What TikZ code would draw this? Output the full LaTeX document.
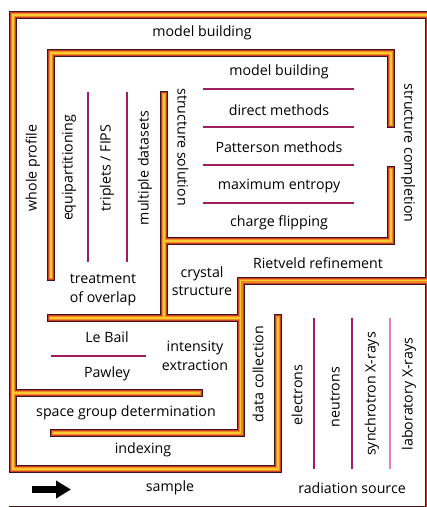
\documentclass[tikz,border=0pt]{standalone}
\usepackage{fontspec}
\setmainfont{Open Sans}
\usepackage{xcolor}
\usepackage{tikz}
\usetikzlibrary{arrows.meta}

\definecolor{wallDark}{RGB}{66,18,30}
\definecolor{wallRed}{RGB}{200,62,40}
\definecolor{wallOrange}{RGB}{240,138,30}
\definecolor{wallYellow}{RGB}{250,200,48}
\definecolor{sepPurple}{RGB}{160,30,95}
\definecolor{sepPink}{RGB}{226,130,180}

\begin{document}
\begin{tikzpicture}[x=1pt, y=-1pt,
  txt/.style={font=\fontsize{14.2}{18.5}\selectfont, inner sep=0pt, align=center},
  vup/.style={txt, rotate=90},
  vdown/.style={txt, rotate=-90},
  sep/.style={line width=2pt, sepPurple},
  seplight/.style={line width=2pt, sepPink},
]
  \useasboundingbox (0,0) rectangle (427,507);
  \clip (0,0) rectangle (427,507);

  % Walls: one layer at a time, so the stripes merge at the joints
  \foreach \w/\c in {8/wallDark, 6/wallRed, 4/wallOrange, 1.6/wallYellow} {
    \begin{scope}[line width=\w pt, color=\c, line cap=rect]
      \draw (278,318) -- (278,469) -- (12.7,469) -- (12.7,15) -- (428.5,15)
            -- (428.5,509.5) -- (13,509.5);
      \draw (51,277) -- (51,53) -- (391,53) -- (391,124);
      \draw (391,170) -- (391,241) -- (164,241);
      \draw (164,95) -- (164,318);
      \draw (50.7,318) -- (240.5,318);
      \draw (428.5,280.5) -- (240.5,280.5) -- (240.5,433) -- (54,433);
      \draw (12.7,393) -- (199,393);
    \end{scope}
  }

  % Separators
  \draw[sep] (203,89) -- (354,89);
  \draw[sep] (203,127) -- (354,127);
  \draw[sep] (203,165) -- (354,165);
  \draw[sep] (203,203) -- (354,203);
  \draw[sep] (88,92) -- (88,262);
  \draw[sep] (127,92) -- (127,262);
  \draw[sep] (51,356) -- (146,356);
  \draw[sep] (314,318) -- (314,469);
  \draw[sep] (352,318) -- (352,469);
  \draw[seplight] (390,318) -- (390,469);

  % Outer ring
  \node[txt] (mbOuter) at (202,33) {model building};
  \node[vup] (wholeProf) at (33,168) {whole profile};
  \node[vdown] (structCompl) at (408,153) {structure completion};
  \node[txt] (rietveld) at (318,263) {Rietveld refinement};

  % Structure solution
  \node[vdown] (structSol) at (183,147) {structure solution};
  \node[txt] (mbInner) at (279,72) {model building};
  \node[txt] (directM) at (279,110) {direct methods};
  \node[txt] (pattM) at (279,147) {Patterson methods};
  \node[txt] (maxEnt) at (279,186) {maximum entropy};
  \node[txt] (chargeF) at (279,223) {charge flipping};

  % Treatment of overlap
  \node[vup] (equipart) at (69,168) {equipartitioning};
  \node[vup] (triplets) at (107,168) {triplets / FIPS};
  \node[vup] (multiData) at (145,168) {multiple datasets};
  \node[txt] (overlap) at (103,290) {treatment\\of overlap};
  \node[txt] (crystal) at (202,281) {crystal\\structure};

  % Intensity extraction, space group, indexing
  \node[txt] (leBail) at (107,337) {Le Bail};
  \node[txt] (pawley) at (107,374) {Pawley};
  \node[txt] (intExtr) at (195,356) {intensity\\extraction};
  \node[txt] (spaceGrp) at (126,413) {space group determination};
  \node[txt] (indexing) at (143,450) {indexing};

  % Data collection and radiation source
  \node[vup] (dataColl) at (258,374) {data collection};
  \node[vup] (electrons) at (297,395) {electrons};
  \node[vup] (neutrons) at (335,397) {neutrons};
  \node[vup] (synchro) at (372,394) {synchrotron X-rays};
  \node[vup] (labX) at (409,394) {laboratory X-rays};
  \node[txt] (radSrc) at (352,488) {radiation source};
  \node[txt] (sample) at (170,488) {sample};

  % Entry arrow
  \coordinate (arrTail) at (32,489.5);
  \coordinate (arrTip) at (71,489.5);
  \draw[line width=6.5pt, -{Triangle[length=15pt, width=17pt]}] (arrTail) -- (arrTip);
\end{tikzpicture}
\end{document}
